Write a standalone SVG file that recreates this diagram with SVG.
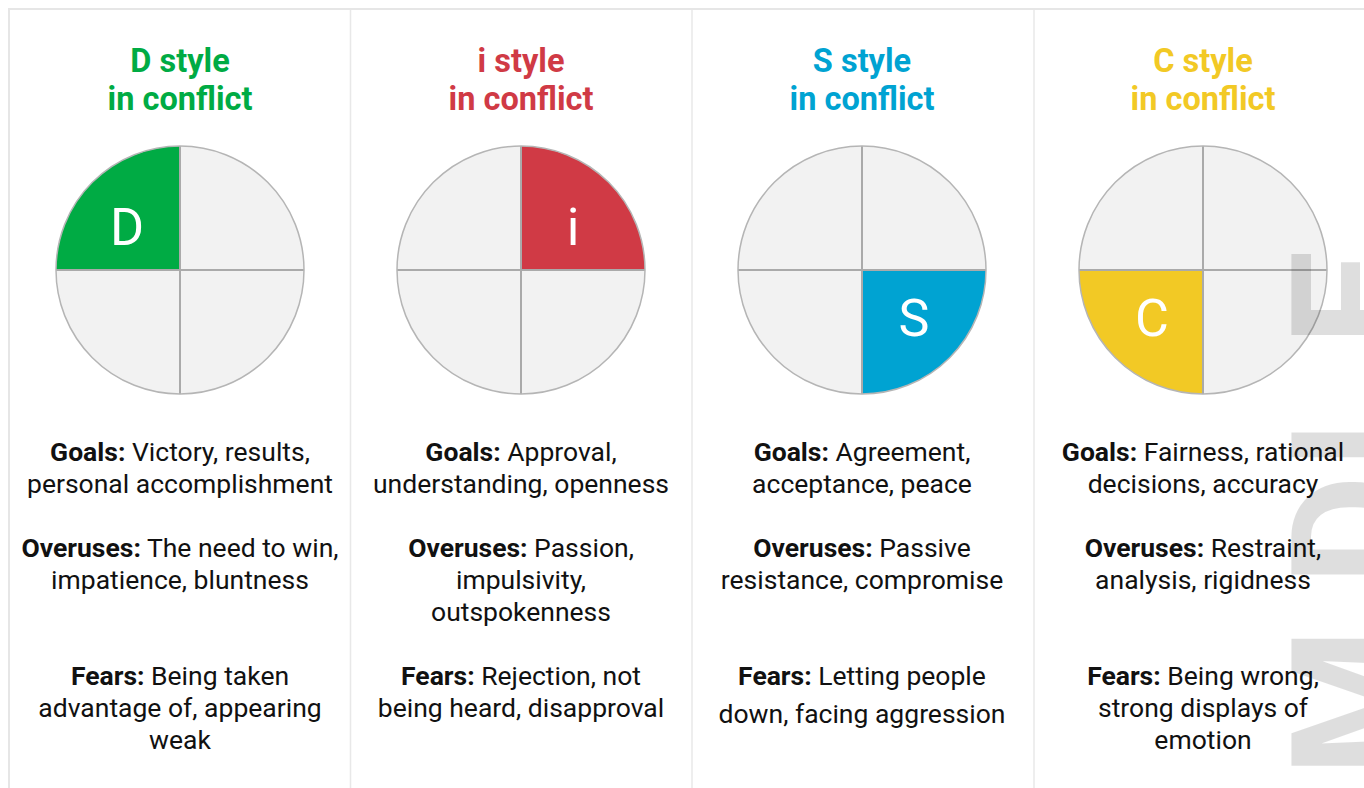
<svg xmlns="http://www.w3.org/2000/svg" width="1364" height="788" viewBox="0 0 1364 788">
<style>
.title{font-family:Roboto,"Liberation Sans",sans-serif;font-weight:700;font-size:32.5px;text-anchor:middle}
.body{font-family:Roboto,"Liberation Sans",sans-serif;font-size:26.5px;fill:#111;text-anchor:middle}
.body .b{font-weight:700}
.ql{font-family:Roboto,"Liberation Sans",sans-serif;font-size:52px;fill:#fff;text-anchor:middle}
.disc{fill:#f2f2f2}
.ring{fill:none;stroke:#b5b5b5;stroke-width:1.5}
.div{stroke:#aaaaaa;stroke-width:2}
.frame{stroke:#e6e6e6;stroke-width:2;fill:none}
.sep{stroke:#e8e8e8;stroke-width:1.5}
.wm{font-family:Roboto,"Liberation Sans",sans-serif;font-weight:700;font-size:170px;fill:#000;fill-opacity:0.13;text-anchor:middle}
</style>
<rect width="1364" height="788" fill="#fff"/>
<g id="frame">
<path class="frame" d="M9,788 V9 H1364"/>
<line class="sep" x1="350.5" y1="10" x2="350.5" y2="788"/>
<line class="sep" x1="692" y1="10" x2="692" y2="788"/>
<line class="sep" x1="1034" y1="10" x2="1034" y2="788"/>
</g>
<g id="col-d">
<text class="title" fill="#00ab44"><tspan x="180" y="72">D style</tspan><tspan x="180" y="110">in conflict</tspan></text>
<circle class="disc" cx="180" cy="270" r="124"/>
<path d="M180,270 L56,270 A124,124 0 0 1 180,146 Z" fill="#00ab44"/>
<line class="div" x1="180" y1="146" x2="180" y2="394"/>
<line class="div" x1="56" y1="270" x2="304" y2="270"/>
<circle class="ring" cx="180" cy="270" r="124"/>
<text class="ql" x="127" y="245">D</text>
</g>
<g id="col-i">
<text class="title" fill="#d03a45"><tspan x="521" y="72">i style</tspan><tspan x="521" y="110">in conflict</tspan></text>
<circle class="disc" cx="521" cy="270" r="124"/>
<path d="M521,270 L521,146 A124,124 0 0 1 645,270 Z" fill="#d03a45"/>
<line class="div" x1="521" y1="146" x2="521" y2="394"/>
<line class="div" x1="397" y1="270" x2="645" y2="270"/>
<circle class="ring" cx="521" cy="270" r="124"/>
<text class="ql" x="573" y="245">i</text>
</g>
<g id="col-s">
<text class="title" fill="#00a3d2"><tspan x="862" y="72">S style</tspan><tspan x="862" y="110">in conflict</tspan></text>
<circle class="disc" cx="862" cy="270" r="124"/>
<path d="M862,270 L986,270 A124,124 0 0 1 862,394 Z" fill="#00a3d2"/>
<line class="div" x1="862" y1="146" x2="862" y2="394"/>
<line class="div" x1="738" y1="270" x2="986" y2="270"/>
<circle class="ring" cx="862" cy="270" r="124"/>
<text class="ql" x="914" y="336">S</text>
</g>
<g id="col-c">
<text class="title" fill="#f2c925"><tspan x="1203" y="72">C style</tspan><tspan x="1203" y="110">in conflict</tspan></text>
<circle class="disc" cx="1203" cy="270" r="124"/>
<path d="M1203,270 L1203,394 A124,124 0 0 1 1079,270 Z" fill="#f2c925"/>
<line class="div" x1="1203" y1="146" x2="1203" y2="394"/>
<line class="div" x1="1079" y1="270" x2="1327" y2="270"/>
<circle class="ring" cx="1203" cy="270" r="124"/>
<text class="ql" x="1152" y="336">C</text>
</g>
<g id="watermark">
<text class="wm" transform="rotate(-90)" x="-702 -530 -445 -298" y="1413">MDIE</text>
</g>
<g id="text-d">
<text class="body" x="180" y="461"><tspan class="b">Goals:</tspan> Victory, results,</text>
<text class="body" x="180" y="493">personal accomplishment</text>
<text class="body" x="180" y="557"><tspan class="b">Overuses:</tspan> The need to win,</text>
<text class="body" x="180" y="589">impatience, bluntness</text>
<text class="body" x="180" y="685"><tspan class="b">Fears:</tspan> Being taken</text>
<text class="body" x="180" y="717">advantage of, appearing</text>
<text class="body" x="180" y="749">weak</text>
</g>
<g id="text-i">
<text class="body" x="521" y="461"><tspan class="b">Goals:</tspan> Approval,</text>
<text class="body" x="521" y="493">understanding, openness</text>
<text class="body" x="521" y="557"><tspan class="b">Overuses:</tspan> Passion,</text>
<text class="body" x="521" y="589">impulsivity,</text>
<text class="body" x="521" y="621">outspokenness</text>
<text class="body" x="521" y="685"><tspan class="b">Fears:</tspan> Rejection, not</text>
<text class="body" x="521" y="717">being heard, disapproval</text>
</g>
<g id="text-s">
<text class="body" x="862" y="461"><tspan class="b">Goals:</tspan> Agreement,</text>
<text class="body" x="862" y="493">acceptance, peace</text>
<text class="body" x="862" y="557"><tspan class="b">Overuses:</tspan> Passive</text>
<text class="body" x="862" y="589">resistance, compromise</text>
<text class="body" x="862" y="685"><tspan class="b">Fears:</tspan> Letting people</text>
<text class="body" x="862" y="723">down, facing aggression</text>
</g>
<g id="text-c">
<text class="body" x="1203" y="461"><tspan class="b">Goals:</tspan> Fairness, rational</text>
<text class="body" x="1203" y="493">decisions, accuracy</text>
<text class="body" x="1203" y="557"><tspan class="b">Overuses:</tspan> Restraint,</text>
<text class="body" x="1203" y="589">analysis, rigidness</text>
<text class="body" x="1203" y="685"><tspan class="b">Fears:</tspan> Being wrong,</text>
<text class="body" x="1203" y="717">strong displays of</text>
<text class="body" x="1203" y="749">emotion</text>
</g>
</svg>
